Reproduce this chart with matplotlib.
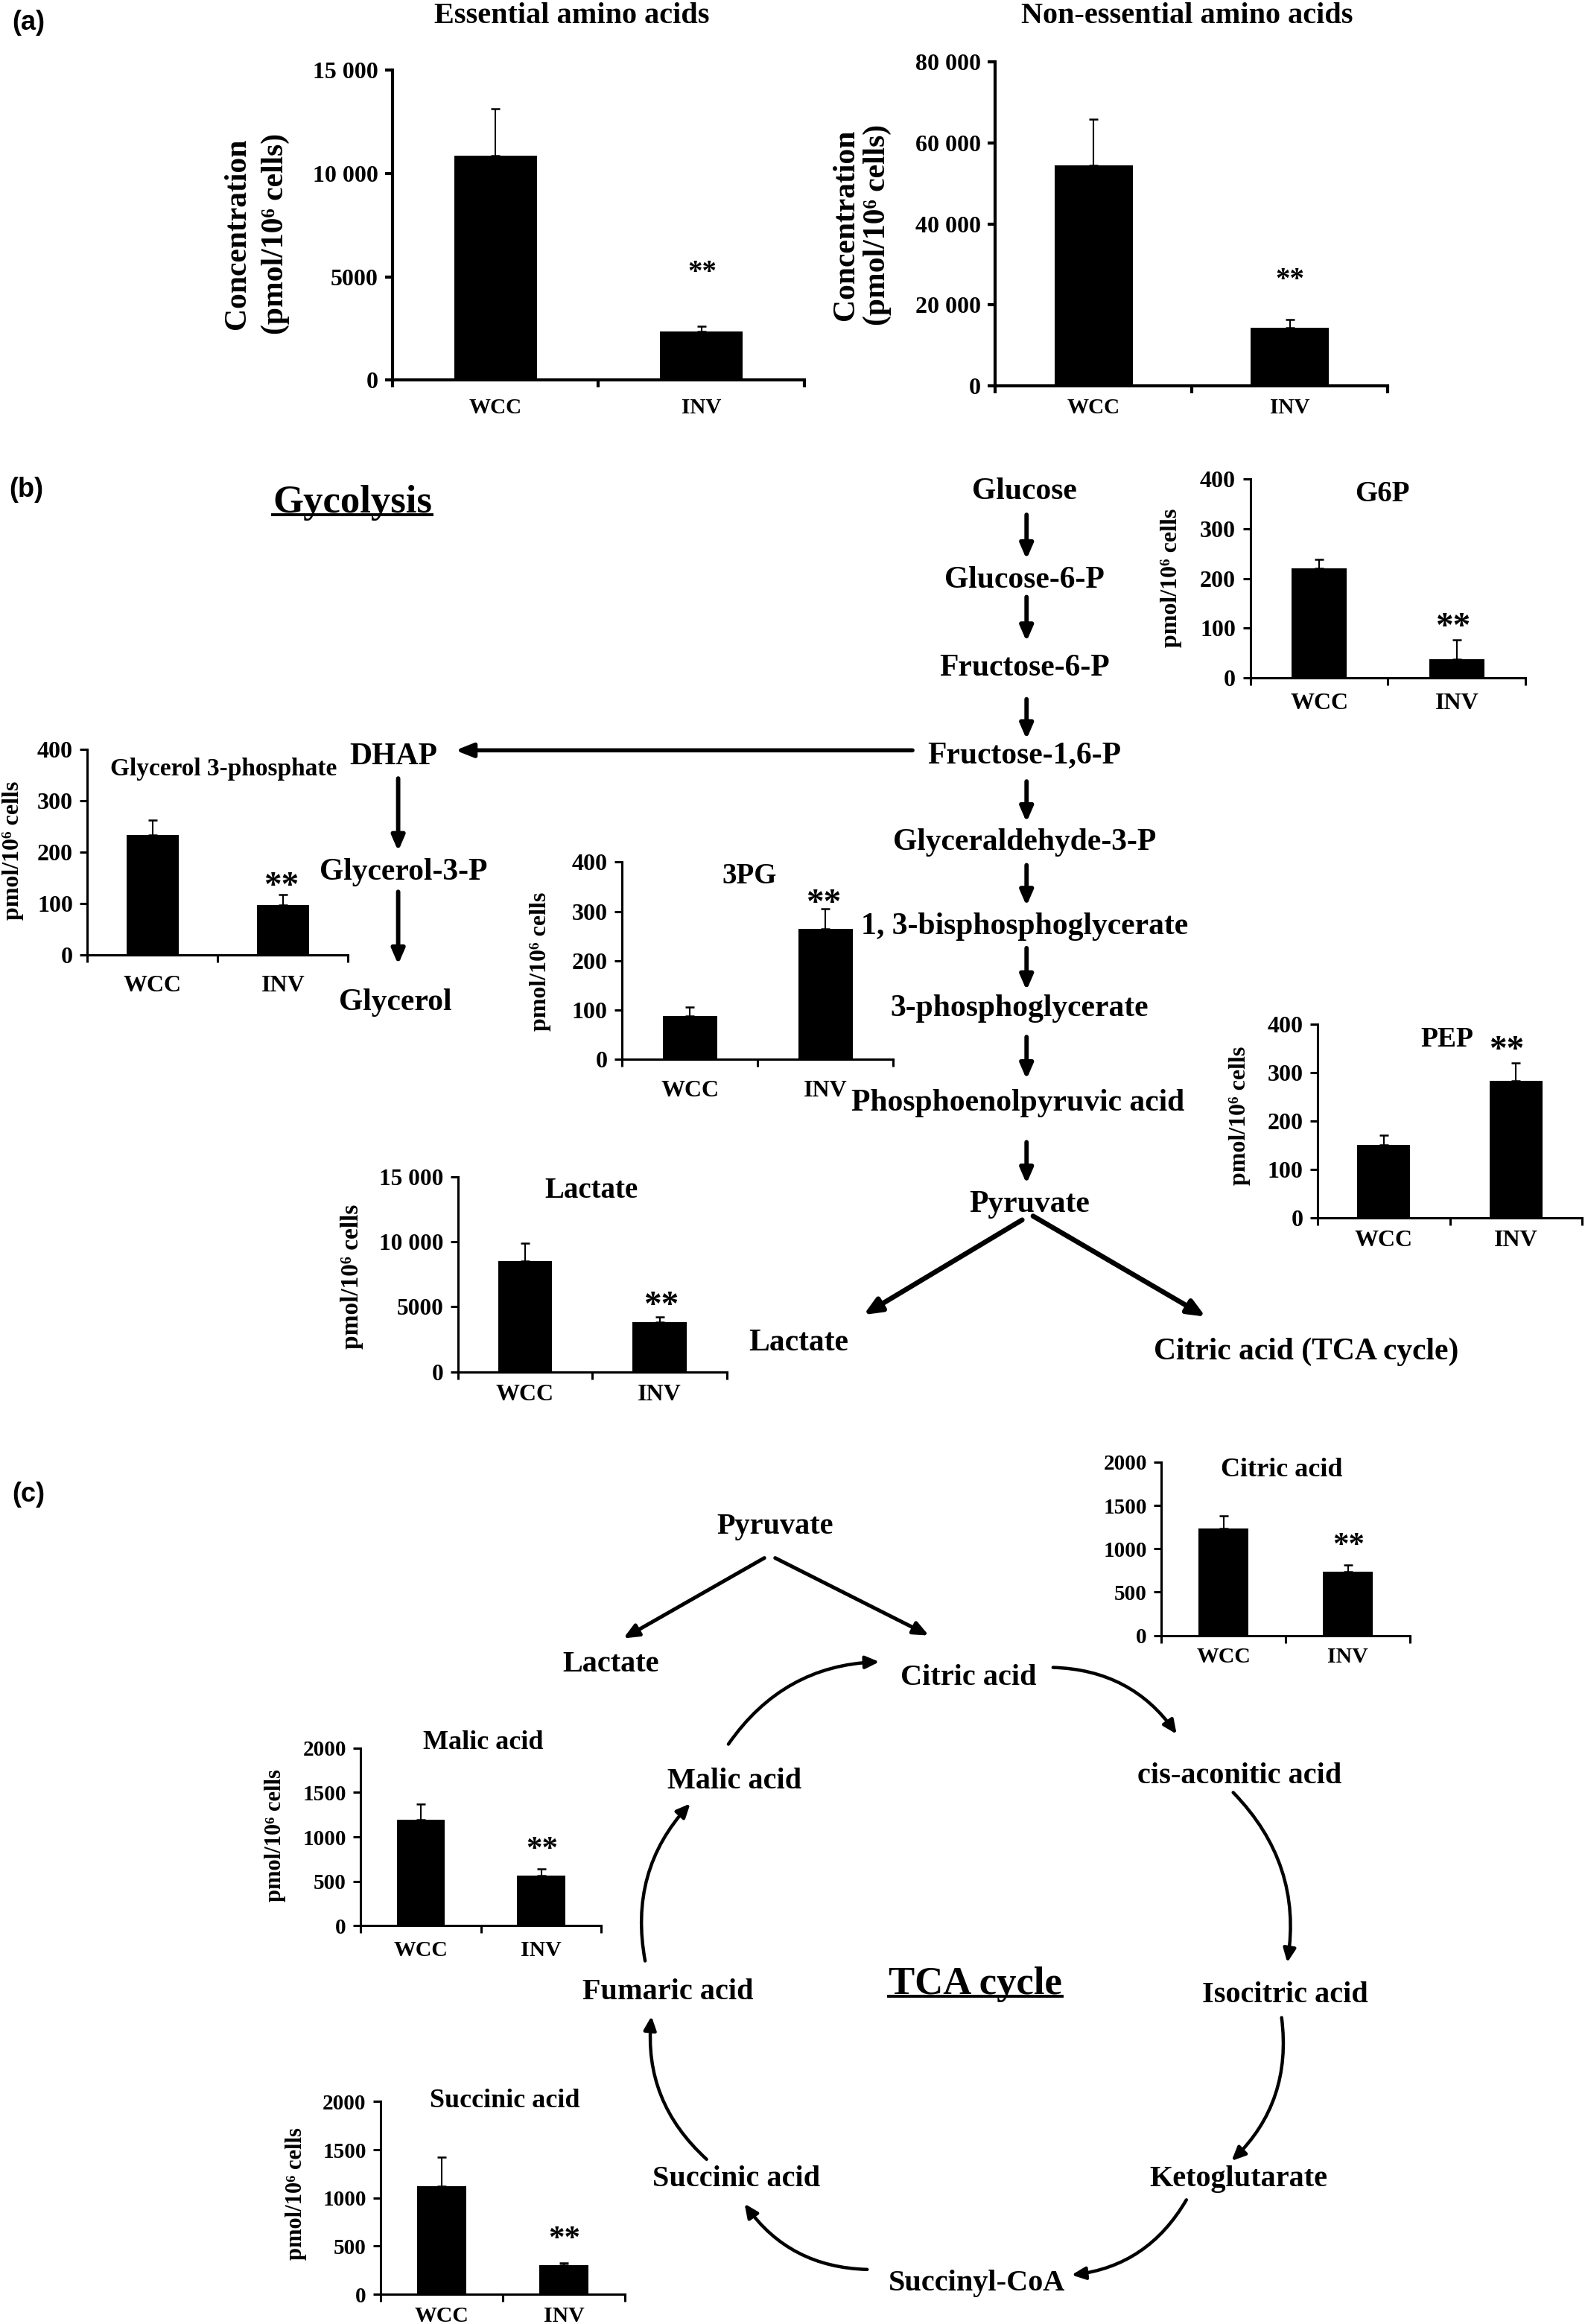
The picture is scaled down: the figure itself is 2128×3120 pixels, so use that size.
import matplotlib
matplotlib.use('Agg')
import matplotlib.pyplot as plt
import numpy as np
from matplotlib.ticker import FuncFormatter

plt.rcParams['font.family'] = ['Liberation Serif', 'DejaVu Serif']
plt.rcParams['font.weight'] = 'bold'

# ---- data (pmol / 10^6 cells, mean and SD) ----
groups = ['WCC', 'INV']

essential_aa = [10850, 2360]
essential_aa_sd = [2270, 240]
nonessential_aa = [54500, 14470]
nonessential_aa_sd = [11450, 2020]

g6p = [220, 37]
g6p_sd = [19, 40]
g3p = [234, 97]
g3p_sd = [29, 20]
pg3 = [87, 265]
pg3_sd = [19, 40]
pep = [151, 283]
pep_sd = [19, 38]
lactate = [8540, 3820]
lactate_sd = [1340, 420]

citric = [1237, 737]
citric_sd = [143, 77]
malic = [1194, 562]
malic_sd = [175, 75]
succinic = [1124, 300]
succinic_sd = [300, 28]

glycolysis_steps = ['Glucose', 'Glucose-6-P', 'Fructose-6-P', 'Fructose-1,6-P',
                    'Glyceraldehyde-3-P', '1, 3-bisphosphoglycerate',
                    '3-phosphoglycerate', 'Phosphoenolpyruvic acid', 'Pyruvate']
tca_steps = ['Citric acid', 'cis-aconitic acid', 'Isocitric acid', 'Ketoglutarate',
             'Succinyl-CoA', 'Succinic acid', 'Fumaric acid', 'Malic acid']

# ---- layout grid: half of the output pixels ----
W, H = 1070.0, 1568.8
PT = 2128 / W * 72 / 200      # points per layout unit

fig = plt.figure(figsize=(2128 / 200, 3120 / 200), dpi=200)
bg = fig.add_axes([0, 0, 1, 1])
bg.set_xlim(0, W)
bg.set_ylim(H, 0)
bg.axis('off')


def sep_thousands(v, pos):
    if v >= 10000:
        return f'{v:,.0f}'.replace(',', ' ')
    return f'{v:.0f}'


def chart(box, means, sds, ymax, step, fs_tick, fs_cat, cat_off, lw=1.1):
    x0, x1, ytop, y0 = box
    ax = fig.add_axes([x0 / W, 1 - y0 / H, (x1 - x0) / W, (y0 - ytop) / H])
    ax.patch.set_visible(False)
    pos = np.arange(len(groups))
    ax.bar(pos, means, width=0.4, color='black', zorder=2)
    ax.errorbar(pos, means, yerr=[np.zeros(len(sds)), sds], fmt='none',
                ecolor='black', elinewidth=0.75, capsize=2.2, capthick=0.9,
                zorder=3, clip_on=False)
    ax.set_xlim(-0.5, len(groups) - 0.5)
    ax.set_ylim(0, ymax)
    ax.set_yticks(np.arange(0, ymax + 1, step))
    ax.yaxis.set_major_formatter(FuncFormatter(sep_thousands))
    ax.set_xticks(pos, groups)
    ax.set_xticks(np.arange(-0.5, len(groups), 1.0), minor=True)
    for s in ['top', 'right']:
        ax.spines[s].set_visible(False)
    for s in ['left', 'bottom']:
        ax.spines[s].set_linewidth(lw)
    ax.tick_params(axis='y', direction='out', length=3.5, width=lw, pad=3.5,
                   labelsize=fs_tick)
    ax.tick_params(axis='x', which='major', length=0,
                   pad=cat_off * PT - 0.35 * fs_cat, labelsize=fs_cat)
    ax.tick_params(axis='x', which='minor', direction='out', length=3.5, width=lw)
    return ax


def txt(x, y, s, fs, **kw):
    return bg.text(x, y + 0.33 * fs / PT, s, fontsize=fs, ha='center',
                   va='baseline', **kw)


def stars(x, y, fs=17):
    bg.text(x, y + 0.47 * fs / PT, '**', fontsize=fs, ha='center', va='baseline')


def ylab(x, y, s, fs=11.5):
    bg.text(x, y, s, fontsize=fs, rotation=90, ha='center', va='center')


def arrow(p0, p1, lw=1.4, rad=0.0, hl=0.6, hw=0.25):
    bg.annotate('', xy=p1, xytext=p0,
                arrowprops=dict(arrowstyle=f'-|>,head_length={hl},head_width={hw}',
                                lw=lw, color='black', shrinkA=0, shrinkB=0,
                                mutation_scale=10,
                                connectionstyle=f'arc3,rad={rad}'))


def underlined(x, ybase, s, fs):
    t = bg.text(x, ybase, s, fontsize=fs, ha='center', va='baseline')
    r = fig.canvas.get_renderer()
    bb = t.get_window_extent(r)
    xa, _ = bg.transData.inverted().transform((bb.x0, bb.y0))
    xb, _ = bg.transData.inverted().transform((bb.x1, bb.y0))
    bg.plot([xa, xb], [ybase + 1.2, ybase + 1.2], color='black', lw=1.4)


panel_font = dict(family=['Liberation Sans', 'DejaVu Sans'], fontsize=13)

# ================= (a) amino acids =================
bg.text(19, 15.5, '(a)', ha='center', va='center', **panel_font)

chart((265, 543, 47.4, 256.5), essential_aa, essential_aa_sd, 15000, 5000,
      11.5, 10.5, 17, lw=1.5)
txt(386, 9, 'Essential amino acids', 14.5)
stars(474, 180, 14)
ylab(160.5, 158, 'Concentration', 15)
ylab(186, 158, '(pmol/10⁶ cells)', 15)

chart((672, 937, 41.8, 260.6), nonessential_aa, nonessential_aa_sd, 80000, 20000,
      11.5, 10.5, 13, lw=1.5)
txt(801.5, 9, 'Non-essential amino acids', 14.5)
stars(871, 185, 14)
ylab(571, 152, 'Concentration', 15)
ylab(592, 152, '(pmol/10⁶ cells)', 15)

# ================= (b) glycolysis =================
bg.text(17.6, 330.5, '(b)', ha='center', va='center', **panel_font)
underlined(238, 346, 'Gycolysis', 19)

step_x = [691.5, 691.5, 691.5, 691.5, 691.5, 691.5, 688, 687, 695]
step_y = [330, 390, 449, 508, 567, 623.5, 679, 742.7, 811.4]
for name, x, y in zip(glycolysis_steps, step_x, step_y):
    txt(x, y, name, 15)
down_arrows = [(347.5, 377.5), (403, 433), (472, 499), (527.5, 555),
               (584, 611.5), (640, 668.5), (700, 728.5), (771, 799)]
for ya, yb in down_arrows:
    arrow((693, ya), (693, yb), lw=2.1, hl=0.6, hw=0.26)

# branch to DHAP / glycerol
arrow((616, 506.5), (307.5, 506.5), lw=2.0, hl=0.7, hw=0.28)
txt(265.6, 509, 'DHAP', 15)
txt(272.6, 587, 'Glycerol-3-P', 15)
txt(267, 675, 'Glycerol', 15)
arrow((268.8, 525.5), (268.8, 574.5), lw=2.1, hl=0.6, hw=0.26)
arrow((268.8, 602), (268.8, 651), lw=2.1, hl=0.6, hw=0.26)

# pyruvate split
arrow((690, 823.5), (583, 887.6), lw=2.4, hl=0.7, hw=0.3)
arrow((697.4, 820.9), (813.8, 888.8), lw=2.4, hl=0.7, hw=0.3)
txt(539.3, 904.7, 'Lactate', 15)
txt(882, 910.7, 'Citric acid (TCA cycle)', 15)

# small bar charts in (b)
chart((844, 1030, 323.5, 457.6), g6p, g6p_sd, 400, 100, 11.5, 11.5, 15.8)
txt(933, 332, 'G6P', 14)
stars(981, 418)
ylab(790.6, 390, 'pmol/10⁶ cells')

chart((59, 235, 506, 644.6), g3p, g3p_sd, 400, 100, 11.5, 11.5, 19.3)
txt(151, 518, 'Glycerol 3-phosphate', 12)
stars(190, 593)
ylab(8.8, 574, 'pmol/10⁶ cells')

chart((420, 603, 582, 715), pg3, pg3_sd, 400, 100, 11.5, 11.5, 19.6)
txt(506, 590, '3PG', 14)
stars(556, 605)
ylab(365, 649, 'pmol/10⁶ cells')

chart((889.5, 1068, 691.5, 822), pep, pep_sd, 400, 100, 11.5, 11.5, 14)
txt(977, 700, 'PEP', 13.5)
stars(1017, 704)
ylab(836.8, 753, 'pmol/10⁶ cells')

chart((309, 490.7, 794.4, 926), lactate, lactate_sd, 15000, 5000, 11.3, 11.5, 14)
txt(399, 802, 'Lactate', 14)
stars(446.5, 876.5)
ylab(237.6, 861.6, 'pmol/10⁶ cells', 12)

# ================= (c) TCA cycle =================
bg.text(19, 1009, '(c)', ha='center', va='center', **panel_font)
underlined(658.5, 1346.3, 'TCA cycle', 19)

txt(523.4, 1028.4, 'Pyruvate', 14.5)
txt(412.6, 1121.7, 'Lactate', 14.5)
arrow((516, 1051.7), (420.8, 1106), lw=1.8, hl=0.6, hw=0.26)
arrow((523.3, 1051.7), (627, 1104), lw=1.8, hl=0.6, hw=0.26)

tca_xy = [(653.6, 1130.5), (836.8, 1197), (867.8, 1345), (836, 1469),
          (659.6, 1539.5), (497, 1469), (450.7, 1343), (496, 1200.6)]
for name, (x, y) in zip(tca_steps, tca_xy):
    txt(x, y, name, 14.5)

tca_arrows = [((710.9, 1125.6), (794.3, 1170.6)),
              ((832.5, 1210), (869, 1324.8)),
              ((865.2, 1362), (831.4, 1458.7)),
              ((800.9, 1485), (723.4, 1535.7)),
              ((585.4, 1532), (502.6, 1487.6)),
              ((477, 1457.6), (439.8, 1361)),
              ((435.5, 1323.7), (466, 1217.5)),
              ((491.7, 1177.4), (593.6, 1121.8))]
for p0, p1 in tca_arrows:
    arrow(p0, p1, lw=1.6, rad=-0.25, hl=0.55, hw=0.25)

chart((784, 952, 987, 1104), citric, citric_sd, 2000, 500, 10.5, 10.7, 13)
txt(865, 990.5, 'Citric acid', 13)
stars(910.5, 1038.6, 15.5)

chart((243.5, 406, 1180, 1300), malic, malic_sd, 2000, 500, 10.5, 10.7, 15.3)
txt(326.3, 1174.7, 'Malic acid', 13)
stars(366, 1244, 15.5)
ylab(186, 1239, 'pmol/10⁶ cells', 11)

chart((257, 422, 1418.6, 1548.8), succinic, succinic_sd, 2000, 500, 10.5, 10.7, 13.2)
txt(340.6, 1416.7, 'Succinic acid', 13)
stars(381, 1507, 15.5)
ylab(200, 1481, 'pmol/10⁶ cells', 11)

fig.savefig('out.png', dpi=200)
